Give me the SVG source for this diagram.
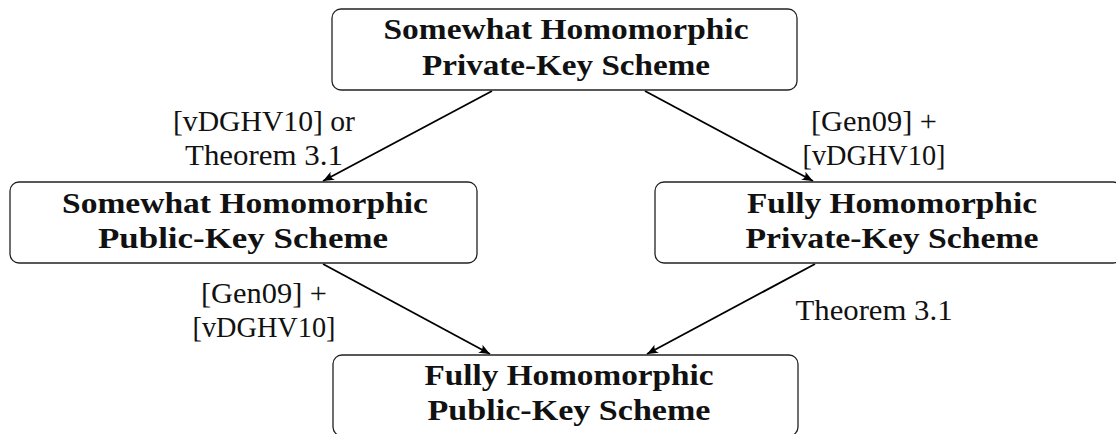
<svg xmlns="http://www.w3.org/2000/svg" width="1116" height="434" viewBox="0 0 1116 434">
<style>
.box{fill:#fff;stroke:#222;stroke-width:1.3}
.nt{font-family:"Liberation Serif","Times New Roman",serif;font-weight:bold;font-size:30px;fill:#111;text-anchor:middle}
.lb{font-family:"Liberation Serif","Times New Roman",serif;font-size:29px;fill:#111;text-anchor:middle}
.edge{stroke:#000;stroke-width:1.8;fill:none;marker-end:url(#ah)}
</style>
<defs>
<marker id="ah" viewBox="-12 -6 14 12" refX="0" refY="0" markerWidth="14" markerHeight="12" markerUnits="userSpaceOnUse" orient="auto">
<path d="M0,0 L-11,-4.5 Q-7,0 -11,4.5 Z" fill="#000"/>
</marker>
</defs>
<rect width="1116" height="434" fill="#fff"/>
<g id="edges">
<line class="edge" x1="492" y1="91" x2="323" y2="181"/>
<line class="edge" x1="645" y1="91" x2="813" y2="181"/>
<line class="edge" x1="323" y1="264" x2="490" y2="354"/>
<line class="edge" x1="815" y1="264" x2="647" y2="354"/>
</g>
<g id="n1">
<rect class="box" x="332" y="9" width="465" height="81" rx="9"/>
<text class="nt" x="566" y="39" textLength="365" lengthAdjust="spacingAndGlyphs">Somewhat Homomorphic</text>
<text class="nt" x="566" y="75" textLength="288" lengthAdjust="spacingAndGlyphs">Private-Key Scheme</text>
</g>
<g id="n2">
<rect class="box" x="10" y="182" width="467" height="81" rx="9"/>
<text class="nt" x="245" y="213" textLength="366" lengthAdjust="spacingAndGlyphs">Somewhat Homomorphic</text>
<text class="nt" x="243" y="248" textLength="290" lengthAdjust="spacingAndGlyphs">Public-Key Scheme</text>
</g>
<g id="n3">
<rect class="box" x="655" y="182" width="467" height="81" rx="9"/>
<text class="nt" x="892" y="213" textLength="290" lengthAdjust="spacingAndGlyphs">Fully Homomorphic</text>
<text class="nt" x="892" y="248" textLength="293" lengthAdjust="spacingAndGlyphs">Private-Key Scheme</text>
</g>
<g id="n4">
<rect class="box" x="333" y="355" width="465" height="81" rx="9"/>
<text class="nt" x="569" y="385" textLength="289" lengthAdjust="spacingAndGlyphs">Fully Homomorphic</text>
<text class="nt" x="569" y="420" textLength="283" lengthAdjust="spacingAndGlyphs">Public-Key Scheme</text>
</g>
<g id="labels">
<text class="lb" x="264" y="131" textLength="182" lengthAdjust="spacingAndGlyphs">[vDGHV10] or</text>
<text class="lb" x="264" y="165" textLength="158" lengthAdjust="spacingAndGlyphs">Theorem 3.1</text>
<text class="lb" x="874" y="131" textLength="126" lengthAdjust="spacingAndGlyphs">[Gen09] +</text>
<text class="lb" x="874" y="165" textLength="143" lengthAdjust="spacingAndGlyphs">[vDGHV10]</text>
<text class="lb" x="264" y="303" textLength="126" lengthAdjust="spacingAndGlyphs">[Gen09] +</text>
<text class="lb" x="264" y="337" textLength="143" lengthAdjust="spacingAndGlyphs">[vDGHV10]</text>
<text class="lb" x="874" y="320" textLength="157" lengthAdjust="spacingAndGlyphs">Theorem 3.1</text>
</g>
</svg>
